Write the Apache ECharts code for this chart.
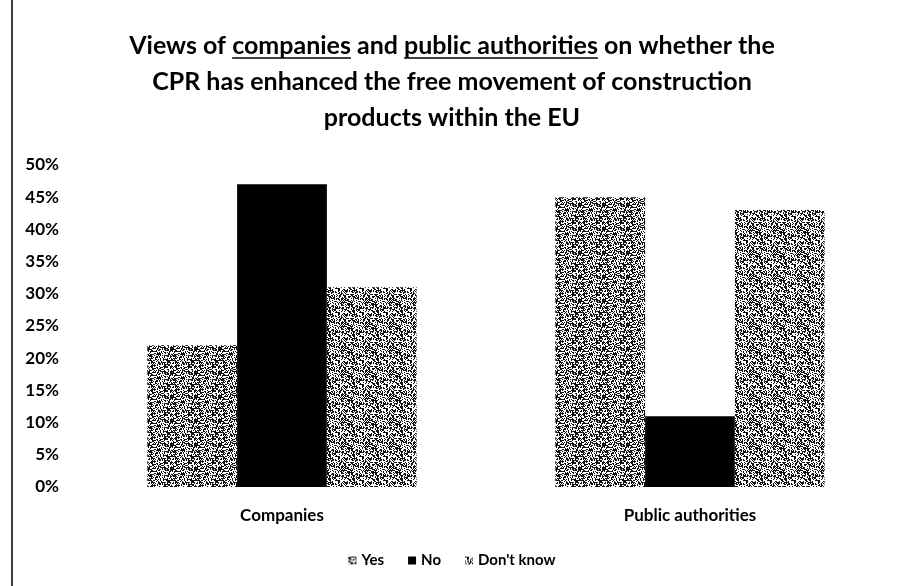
<!DOCTYPE html>
<html><head><meta charset="utf-8">
<script src="https://cdn.jsdelivr.net/npm/echarts@6/dist/echarts.min.js"></script>
<style>html,body{margin:0;padding:0;background:#fff}#c{width:904px;height:586px}</style>
</head><body><div id="c"></div>
<script>
const categories = ['Companies', 'Public authorities'];
const seriesNames = ['Yes', 'No', "Don't know"];
const yesValues = [22, 45];
const noValues = [47, 11];
const dontKnowValues = [31, 43];
const tickLabels = ['0%', '5%', '10%', '15%', '20%', '25%', '30%', '35%', '40%', '45%', '50%'];
const titleLines = [
  'Views of companies and public authorities on whether the',
  'CPR has enhanced the free movement of construction',
  'products within the EU'
];

function speckle(seed, density) {
  const s = 24, cv = document.createElement('canvas');
  cv.width = s; cv.height = s;
  const ctx = cv.getContext('2d');
  ctx.fillStyle = '#fff'; ctx.fillRect(0, 0, s, s);
  ctx.fillStyle = '#111';
  for (let y = 0; y < s; y++) for (let x = 0; x < s; x++) {
    let h = (x * 374761393 + y * 668265263 + seed * 982451653) >>> 0;
    h = ((h ^ (h >>> 13)) * 1274126177) >>> 0;
    h = (h ^ (h >>> 16)) >>> 0;
    if ((h % 1000) / 1000 < density) ctx.fillRect(x, y, 1, 1);
  }
  return { image: cv, repeat: 'repeat' };
}
const yesFill = speckle(3, 0.5);
const dkFill = speckle(7, 0.48);

const font = 'Lato, "Open Sans", sans-serif';
const titleSize = 25;
// underline positions for the underlined words in title line 1
const mc = document.createElement('canvas').getContext('2d');
mc.font = 'bold ' + titleSize + 'px ' + font;
const l1 = titleLines[0];
const l1w = mc.measureText(l1).width;
const l1x = 452 - l1w / 2;
function span(word) {
  const i = l1.indexOf(word);
  const a = l1x + mc.measureText(l1.slice(0, i)).width;
  return [a, a + mc.measureText(word).width];
}
const u1 = span('companies');
const u2 = span('public authorities');
const uy = 58;

const chart = echarts.init(document.getElementById('c'), null, { renderer: 'canvas' });
chart.setOption({
  animation: false,
  title: {
    text: titleLines.join('\n'),
    left: 'center', top: 23,
    textStyle: { fontFamily: font, fontWeight: 'bold', fontSize: titleSize, lineHeight: 36, color: '#000' }
  },
  legend: {
    data: seriesNames, top: 548, left: 'center',
    itemWidth: 8, itemHeight: 8, itemGap: 24, icon: 'rect',
    textStyle: { fontFamily: font, fontWeight: 'bold', fontSize: 15, color: '#000' }
  },
  grid: { left: 78, right: 10, top: 165, bottom: 99 },
  xAxis: {
    type: 'category', data: categories,
    axisLine: { show: false }, axisTick: { show: false },
    axisLabel: { fontFamily: font, fontWeight: 'bold', fontSize: 17, color: '#000', margin: 20 }
  },
  yAxis: {
    type: 'value', min: 0, max: 50, interval: 5,
    splitLine: { show: false }, axisLine: { show: false }, axisTick: { show: false },
    axisLabel: {
      fontFamily: font, fontWeight: 'bold', fontSize: 17, color: '#000', margin: 19,
      formatter: v => tickLabels[Math.round(v / 5)]
    }
  },
  series: [
    { name: seriesNames[0], type: 'bar', data: yesValues, barGap: '0%', barCategoryGap: '34%', itemStyle: { color: yesFill } },
    { name: seriesNames[1], type: 'bar', data: noValues, itemStyle: { color: '#000' } },
    { name: seriesNames[2], type: 'bar', data: dontKnowValues, itemStyle: { color: dkFill } }
  ],
  graphic: [
    { type: 'line', shape: { x1: 12, y1: 0, x2: 12, y2: 586 }, style: { stroke: '#000', lineWidth: 1.5 } },
    { type: 'line', shape: { x1: u1[0], y1: uy, x2: u1[1], y2: uy }, style: { stroke: '#000', lineWidth: 1.5 } },
    { type: 'line', shape: { x1: u2[0], y1: uy, x2: u2[1], y2: uy }, style: { stroke: '#000', lineWidth: 1.5 } }
  ]
});
</script></body></html>
